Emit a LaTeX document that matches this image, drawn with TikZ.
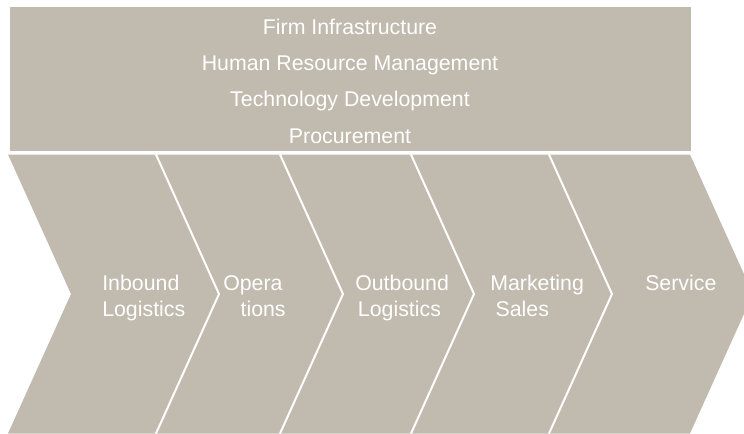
\documentclass[tikz,border=0pt]{standalone}
\usepackage{fontspec}
\setmainfont{Liberation Sans}
\usepackage{tikz}
\usetikzlibrary{positioning}
\definecolor{chain}{RGB}{193,186,174}

\begin{document}
\begin{tikzpicture}[x=0.75pt, y=-0.75pt, node distance=27.2pt,
	support node/.style={text=white, inner sep=0pt, text height=11.5pt, text depth=3.5pt,
		font=\fontsize{16}{19.5}\selectfont},
	activity node/.style={text=white, inner sep=0pt, align=left, anchor=base west,
		font=\fontsize{16}{19.5}\selectfont},
	divider/.style={draw=white, line width=1.5pt}]
	
	\useasboundingbox (0,0) rectangle (744,433);
	
	% support activities
	\fill[chain] (10,7) rectangle (691,151);
	\node[support node] (firm) at (350,29) {Firm Infrastructure};
	\node[support node] (hrm) [below of=firm] {Human Resource Management};
	\node[support node] (tech) [below of=hrm] {Technology Development};
	\node[support node] (proc) [below of=tech] {Procurement};
	
	% primary activities
	\fill[chain] (8,154.5) -- (690,154.5) -- (753,294) -- (690,433.5)
		-- (8,433.5) -- (71,294) -- cycle;
	\draw[divider] (156,154.5) -- (219,294) -- (156,433.5);
	\draw[divider] (280,154.5) -- (343,294) -- (280,433.5);
	\draw[divider] (411,154.5) -- (474,294) -- (411,433.5);
	\draw[divider] (549,154.5) -- (612,294) -- (549,433.5);
	
	% two-line labels sit on the baseline of their last line
	\node[activity node] (inbound) at (102,316) {Inbound\\Logistics};
	\node[activity node] (operations) at (223,316) {Opera\\\hspace{13pt}tions};
	\node[activity node] (outbound) at (355,316) {Outbound\\\hspace{2pt}Logistics};
	\node[activity node] (marketing) at (490,316) {Marketing\\\hspace{4pt}Sales};
	\node[activity node] (service) at (645,290) {Service};
	\end{tikzpicture}
\end{document}
